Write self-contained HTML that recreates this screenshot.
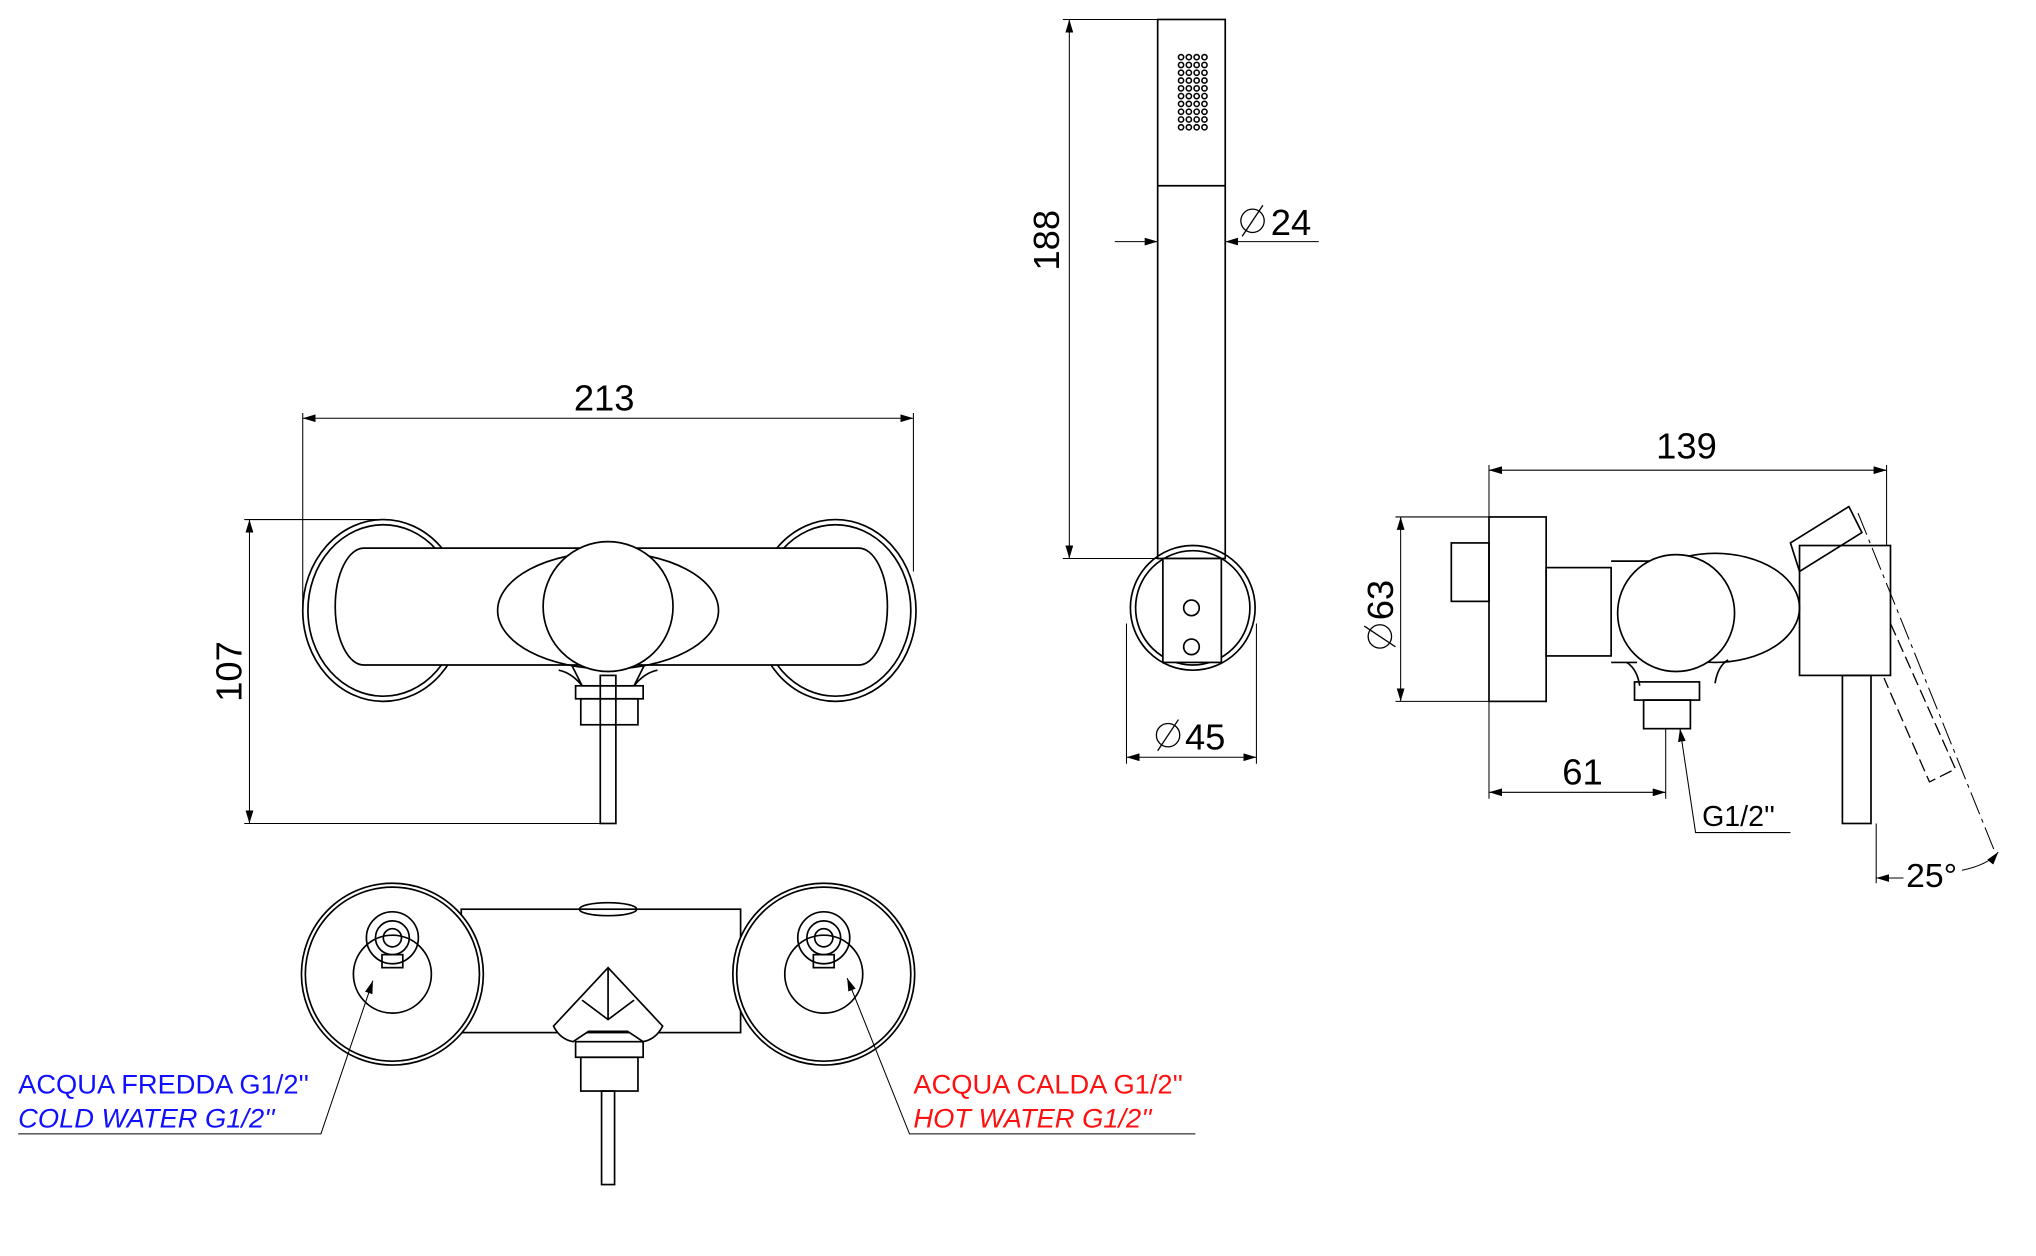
<!DOCTYPE html>
<html><head><meta charset="utf-8"><style>
html,body{margin:0;padding:0;background:#fff;}
svg{display:block}
text{font-family:"Liberation Sans",sans-serif;}
</style></head><body>
<svg width="2036" height="1256" viewBox="0 0 1567 967" preserveAspectRatio="none" xmlns="http://www.w3.org/2000/svg">
<defs>
<marker id="a" viewBox="0 0 10 6" refX="10" refY="3" markerWidth="10" markerHeight="6" orient="auto-start-reverse" markerUnits="userSpaceOnUse"><path d="M0,0 L10,3 L0,6" fill="#000"/></marker>
</defs>
<g fill="none" stroke="#000" stroke-width="1.3">
<!-- FRONT VIEW -->
<line x1="233" y1="318" x2="233" y2="470" stroke-width="0.8"/>
<line x1="703" y1="318" x2="703" y2="440" stroke-width="0.8"/>
<line x1="233" y1="322" x2="703" y2="322" stroke-width="0.8" marker-start="url(#a)" marker-end="url(#a)"/>
<line x1="188" y1="400" x2="295" y2="400" stroke-width="0.8"/>
<line x1="188" y1="634" x2="465" y2="634" stroke-width="0.8"/>
<line x1="192" y1="400" x2="192" y2="634" stroke-width="0.8" marker-start="url(#a)" marker-end="url(#a)"/>
<ellipse cx="295" cy="470" rx="62" ry="70"/>
<ellipse cx="295" cy="470" rx="58" ry="66"/>
<ellipse cx="643" cy="470" rx="62" ry="70"/>
<ellipse cx="643" cy="470" rx="58" ry="66"/>
<rect x="258" y="422" width="425" height="90" rx="22" ry="45" fill="#fff"/>
<ellipse cx="468" cy="470" rx="85" ry="45"/>
<circle cx="468" cy="467" r="50" fill="#fff"/>
<path d="M430,516 q10,2 18,12 M506,516 q-10,2 -18,12 M440,512 l8,16 h40 l8,-16"/>
<rect x="443" y="528" width="52" height="10"/>
<rect x="447" y="538" width="44" height="20"/>
<rect x="462" y="520" width="12" height="114"/>
<!-- HAND SHOWER -->
<rect x="891" y="15" width="52" height="415"/>
<line x1="891" y1="143" x2="943" y2="143"/>
<g stroke-width="1.2">
<circle cx="909" cy="44" r="2"/><circle cx="915" cy="44" r="2"/><circle cx="921" cy="44" r="2"/><circle cx="927" cy="44" r="2"/>
<circle cx="909" cy="50" r="2"/><circle cx="915" cy="50" r="2"/><circle cx="921" cy="50" r="2"/><circle cx="927" cy="50" r="2"/>
<circle cx="909" cy="56" r="2"/><circle cx="915" cy="56" r="2"/><circle cx="921" cy="56" r="2"/><circle cx="927" cy="56" r="2"/>
<circle cx="909" cy="62" r="2"/><circle cx="915" cy="62" r="2"/><circle cx="921" cy="62" r="2"/><circle cx="927" cy="62" r="2"/>
<circle cx="909" cy="68" r="2"/><circle cx="915" cy="68" r="2"/><circle cx="921" cy="68" r="2"/><circle cx="927" cy="68" r="2"/>
<circle cx="909" cy="74" r="2"/><circle cx="915" cy="74" r="2"/><circle cx="921" cy="74" r="2"/><circle cx="927" cy="74" r="2"/>
<circle cx="909" cy="80" r="2"/><circle cx="915" cy="80" r="2"/><circle cx="921" cy="80" r="2"/><circle cx="927" cy="80" r="2"/>
<circle cx="909" cy="86" r="2"/><circle cx="915" cy="86" r="2"/><circle cx="921" cy="86" r="2"/><circle cx="927" cy="86" r="2"/>
<circle cx="909" cy="92" r="2"/><circle cx="915" cy="92" r="2"/><circle cx="921" cy="92" r="2"/><circle cx="927" cy="92" r="2"/>
<circle cx="909" cy="98" r="2"/><circle cx="915" cy="98" r="2"/><circle cx="921" cy="98" r="2"/><circle cx="927" cy="98" r="2"/>
</g>
<circle cx="918" cy="468" r="48"/>
<circle cx="918" cy="468" r="44"/>
<rect x="895" y="430" width="45" height="80" fill="#fff"/>
<circle cx="917" cy="468" r="6"/>
<circle cx="917" cy="498" r="6"/>
<line x1="818" y1="15" x2="891" y2="15" stroke-width="0.8"/>
<line x1="818" y1="430" x2="891" y2="430" stroke-width="0.8"/>
<line x1="823" y1="15" x2="823" y2="430" stroke-width="0.8" marker-start="url(#a)" marker-end="url(#a)"/>
<line x1="858" y1="186" x2="891" y2="186" stroke-width="0.8" marker-end="url(#a)"/>
<line x1="1015" y1="186" x2="943" y2="186" stroke-width="0.8" marker-end="url(#a)"/>
<line x1="867" y1="480" x2="867" y2="588" stroke-width="0.8"/>
<line x1="967" y1="480" x2="967" y2="588" stroke-width="0.8"/>
<line x1="867" y1="583" x2="967" y2="583" stroke-width="0.8" marker-start="url(#a)" marker-end="url(#a)"/>
<circle cx="899" cy="566" r="9" stroke-width="1"/><line x1="891" y1="578" x2="907" y2="554" stroke-width="1"/>
<circle cx="964" cy="170" r="9" stroke-width="1"/><line x1="956" y1="182" x2="972" y2="158" stroke-width="1"/>
<!-- SIDE VIEW -->
<rect x="1117" y="418" width="29" height="45"/>
<rect x="1146" y="398" width="44" height="142"/>
<rect x="1190" y="437" width="50" height="68"/>
<path d="M1240,432 h40 M1240,510 h20"/>
<ellipse cx="1320" cy="468" rx="65" ry="42"/>
<circle cx="1290" cy="472" r="45" fill="#fff"/>
<path d="M1252,510 q8,5 10,18 M1330,508 q-8,5 -10,18"/>
<rect x="1258" y="525" width="50" height="14"/>
<rect x="1265" y="539" width="36" height="22"/>
<rect x="1385" y="420" width="70" height="100"/>
<path d="M1378,418 l45,-28 l10,20 l-48,30 z"/>
<rect x="1418" y="520" width="22" height="114"/>
<path d="M1455,480 l50,112 l-20,10 l-35,-80" stroke-dasharray="10 4" stroke-width="1"/>
<line x1="1430" y1="395" x2="1535" y2="655" stroke-dasharray="18 4 3 4" stroke-width="0.8"/>
<line x1="1146" y1="358" x2="1146" y2="398" stroke-width="0.8"/>
<line x1="1452" y1="358" x2="1452" y2="420" stroke-width="0.8"/>
<line x1="1146" y1="362" x2="1452" y2="362" stroke-width="0.8" marker-start="url(#a)" marker-end="url(#a)"/>
<line x1="1074" y1="398" x2="1146" y2="398" stroke-width="0.8"/>
<line x1="1074" y1="540" x2="1146" y2="540" stroke-width="0.8"/>
<line x1="1078" y1="398" x2="1078" y2="540" stroke-width="0.8" marker-start="url(#a)" marker-end="url(#a)"/>
<circle cx="1062" cy="490" r="9" stroke-width="1"/><line x1="1050" y1="482" x2="1074" y2="498" stroke-width="1"/>
<line x1="1146" y1="540" x2="1146" y2="615" stroke-width="0.8"/>
<line x1="1282" y1="561" x2="1282" y2="615" stroke-width="0.8"/>
<line x1="1146" y1="610" x2="1282" y2="610" stroke-width="0.8" marker-start="url(#a)" marker-end="url(#a)"/>
<path d="M1378,641 h-73 l-12,-80" stroke-width="0.8" marker-end="url(#a)"/>
<line x1="1444" y1="634" x2="1444" y2="680" stroke-width="0.8"/>
<line x1="1444" y1="676" x2="1465" y2="676" stroke-width="0.8" marker-start="url(#a)"/>
<path d="M1510,670 q20,-4 28,-14" stroke-width="0.8" marker-end="url(#a)"/>
<!-- BOTTOM VIEW -->
<rect x="355" y="700" width="215" height="95"/>
<ellipse cx="468" cy="700" rx="22" ry="5"/>
<circle cx="302" cy="750" r="70" fill="#fff"/>
<circle cx="302" cy="750" r="67"/>
<circle cx="634" cy="750" r="70" fill="#fff"/>
<circle cx="634" cy="750" r="67"/>
<circle cx="302" cy="750" r="30"/>
<circle cx="302" cy="722" r="20"/><circle cx="302" cy="722" r="13"/><circle cx="302" cy="722" r="7"/>
<rect x="294" y="735" width="16" height="10"/>
<circle cx="634" cy="750" r="30"/>
<circle cx="634" cy="722" r="20"/><circle cx="634" cy="722" r="13"/><circle cx="634" cy="722" r="7"/>
<rect x="626" y="735" width="16" height="10"/>
<path d="M468,745 l-42,45 q5,10 15,12 l12,-8 h30 l12,8 q10,-2 15,-12 z" fill="#fff"/>
<path d="M468,745 v40 M448,770 l20,15 l20,-15"/>
<rect x="443" y="802" width="52" height="12"/>
<rect x="447" y="814" width="44" height="26"/>
<rect x="463" y="840" width="10" height="72"/>
<path d="M14,873 h233 l40,-118" stroke-width="0.8" marker-end="url(#a)"/>
<path d="M920,873 h-220 l-48,-120" stroke-width="0.8" marker-end="url(#a)"/>
</g>
<g font-size="28" fill="#000">
<text x="465" y="316" text-anchor="middle">213</text>
<text transform="translate(186,517) rotate(-90)" text-anchor="middle">107</text>
<text transform="translate(815,185) rotate(-90)" text-anchor="middle">188</text>
<text x="978" y="181">24</text>
<text x="912" y="577">45</text>
<text x="1298" y="353" text-anchor="middle">139</text>
<text transform="translate(1072,462) rotate(-90)" text-anchor="middle">63</text>
<text x="1218" y="604" text-anchor="middle">61</text>
<text x="1467" y="683" font-size="26">25°</text>
</g>
<text x="1310" y="636" font-size="22">G1/2''</text>
<g font-size="21">
<text x="14" y="842" fill="#1010ff">ACQUA FREDDA G1/2''</text>
<text x="14" y="868" fill="#1010ff" font-style="italic">COLD WATER G1/2''</text>
<text x="703" y="842" fill="#ff1010">ACQUA CALDA G1/2''</text>
<text x="703" y="868" fill="#ff1010" font-style="italic">HOT WATER G1/2''</text>
</g>
</svg>
</body></html>
